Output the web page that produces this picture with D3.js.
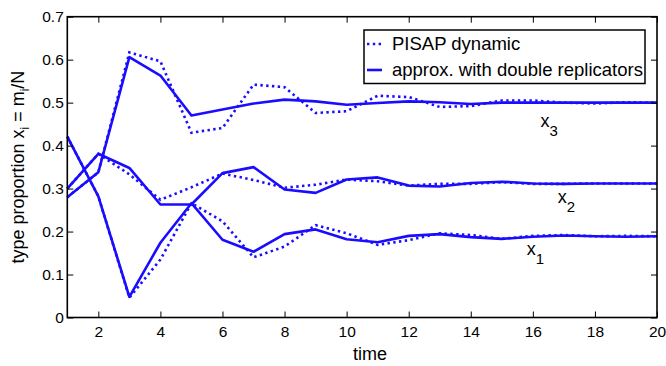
<!DOCTYPE html>
<html>
<head>
<meta charset="utf-8">
<script src="https://cdn.jsdelivr.net/npm/d3@7"></script>
<style>
  html, body { margin: 0; padding: 0; background: #fff; }
  svg { display: block; font-family: "Liberation Sans", Arial, sans-serif; }
</style>
</head>
<body>
<svg id="chart" width="666" height="366"></svg>
<script>
// ---- data ----
const time = [1,2,3,4,5,6,7,8,9,10,11,12,13,14,15,16,17,18,19,20];

// PISAP dynamic (dotted)
const pisapX1 = [0.421,0.282,0.046,0.135,0.266,0.224,0.140,0.165,0.215,0.196,0.169,0.180,0.196,0.192,0.183,0.190,0.192,0.189,0.190,0.189];
const pisapX2 = [0.300,0.381,0.333,0.274,0.303,0.335,0.320,0.302,0.309,0.321,0.317,0.307,0.311,0.311,0.315,0.311,0.311,0.312,0.312,0.312];
const pisapX3 = [0.280,0.338,0.617,0.596,0.430,0.441,0.542,0.536,0.476,0.480,0.516,0.513,0.490,0.492,0.505,0.505,0.500,0.498,0.501,0.500];

// approx. with double replicators (solid)
const approxX1 = [0.421,0.282,0.048,0.174,0.266,0.181,0.153,0.194,0.205,0.182,0.175,0.190,0.194,0.187,0.183,0.188,0.191,0.189,0.188,0.189];
const approxX2 = [0.300,0.381,0.348,0.263,0.263,0.336,0.350,0.298,0.290,0.321,0.326,0.307,0.305,0.313,0.316,0.312,0.311,0.312,0.312,0.312];
const approxX3 = [0.280,0.338,0.606,0.563,0.470,0.484,0.498,0.507,0.503,0.495,0.499,0.503,0.501,0.497,0.500,0.500,0.500,0.500,0.500,0.500];

const xTicks = [2,4,6,8,10,12,14,16,18,20];
const yTicks = [0,0.1,0.2,0.3,0.4,0.5,0.6,0.7];
const yTickLabels = ["0","0.1","0.2","0.3","0.4","0.5","0.6","0.7"];

const seriesNames = ["PISAP dynamic", "approx. with double replicators"];
const curveLabels = ["1","2","3"];
const curveLabelT = [15.8, 16.8, 16.25];
const curveLabelV = [0.146, 0.266, 0.444];

// ---- layout ----
const svg = d3.select("#chart");
const L = 67.3, R = 657, T = 16.7, B = 317.5;
const color = "#1a0dff";

const x = d3.scaleLinear().domain([1,20]).range([L,R]);
const y = d3.scaleLinear().domain([0,0.7]).range([B,T]);

svg.append("rect").attr("width",666).attr("height",366).attr("fill","#fff");

const line = d3.line().x((d,i)=>x(time[i])).y(d=>y(d));

const dotted = [pisapX1, pisapX2, pisapX3];
const solid = [approxX1, approxX2, approxX3];

const plot = svg.append("g");
solid.forEach(s => {
  plot.append("path").datum(s).attr("d", line)
    .attr("fill","none").attr("stroke",color).attr("stroke-width",2.6)
    .attr("stroke-linejoin","round");
});
dotted.forEach(s => {
  plot.append("path").datum(s).attr("d", line)
    .attr("fill","none").attr("stroke",color).attr("stroke-width",2.6)
    .attr("stroke-dasharray","2.4,3.4");
});

// ---- axes ----
const fs = 15.5;
const xAxis = svg.append("g").attr("transform",`translate(0,${B})`)
  .call(d3.axisBottom(x).tickValues(xTicks).tickSize(-6).tickPadding(8).tickFormat(d3.format("d")));
const xTop = svg.append("g").attr("transform",`translate(0,${T})`)
  .call(d3.axisTop(x).tickValues(xTicks).tickSize(-6).tickFormat(""));
const yAxis = svg.append("g").attr("transform",`translate(${L},0)`)
  .call(d3.axisLeft(y).tickValues(yTicks).tickSize(-6).tickPadding(3.5).tickFormat((d,i)=>yTickLabels[i]));
const yRight = svg.append("g").attr("transform",`translate(${R},0)`)
  .call(d3.axisRight(y).tickValues(yTicks).tickSize(-6).tickFormat(""));

[xAxis,xTop,yAxis,yRight].forEach(g => {
  g.select(".domain").remove();
  g.selectAll(".tick line").attr("stroke","#000").attr("stroke-width",1);
  g.selectAll(".tick text").attr("fill","#000")
    .style("font-family",'"Liberation Sans", Arial, sans-serif').style("font-size",fs+"px");
});

svg.append("rect").attr("x",L).attr("y",T).attr("width",R-L).attr("height",B-T)
  .attr("fill","none").attr("stroke","#000").attr("stroke-width",1.6);

// axis labels
svg.append("text").attr("x",370).attr("y",360).attr("text-anchor","middle")
  .style("font-size","18px").attr("fill","#000").text("time");

const yl = svg.append("text").attr("transform",`translate(24,${(T+B)/2}) rotate(-90)`)
  .attr("text-anchor","middle").style("font-size","18px").attr("fill","#000");
yl.append("tspan").text("type proportion x");
yl.append("tspan").attr("dy",5).style("font-size","12px").text("i");
yl.append("tspan").attr("dy",-5).text(" = m");
yl.append("tspan").attr("dy",5).style("font-size","12px").text("i");
yl.append("tspan").attr("dy",-5).text("/N");

// curve labels
curveLabels.forEach((c,i) => {
  const t = svg.append("text").attr("x",x(curveLabelT[i])).attr("y",y(curveLabelV[i]))
    .style("font-size","18px").attr("fill","#000");
  t.append("tspan").text("x");
  t.append("tspan").attr("dy",9).style("font-size","15px").text(c);
});

// legend
const lg = svg.append("g");
lg.append("rect").attr("x",364).attr("y",30).attr("width",281).attr("height",53.5)
  .attr("fill","#fff").attr("stroke","#000").attr("stroke-width",1.5);
const legY = [44, 70];
const legBase = [49.5, 75.5];
seriesNames.forEach((n,i) => {
  lg.append("line").attr("x1",367).attr("x2",382).attr("y1",legY[i]).attr("y2",legY[i])
    .attr("stroke",color).attr("stroke-width",2.6)
    .attr("stroke-dasharray", i===0 ? "2.4,3.4" : null);
  lg.append("text").attr("x",392).attr("y",legBase[i]).style("font-size","18.5px")
    .attr("fill","#000").text(n);
});
</script>
</body>
</html>
